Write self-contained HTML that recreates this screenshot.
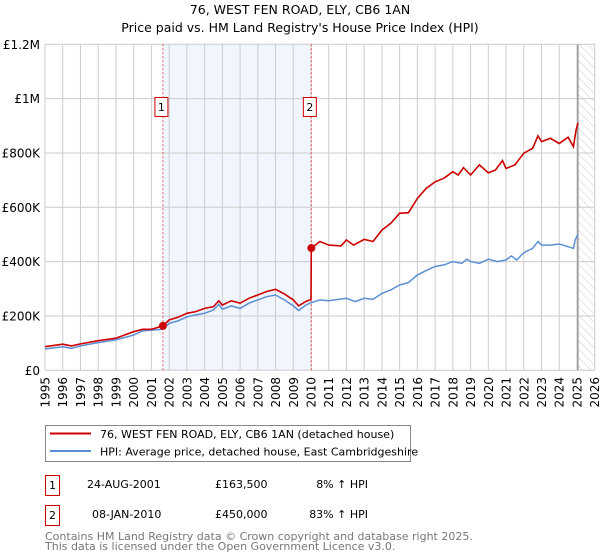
<!DOCTYPE html>
<html><head><meta charset="utf-8"><style>
body{margin:0;background:#fff;}
svg{display:block;font-family:"DejaVu Sans","Liberation Sans",sans-serif;}
</style></head><body>
<svg id="c" width="600" height="560" viewBox="0 0 600 560">
<text x="300" y="14" text-anchor="middle" font-size="12.5" fill="#000">76, WEST FEN ROAD, ELY, CB6 1AN</text>
<text x="300" y="32" text-anchor="middle" font-size="12.5" fill="#000">Price paid vs. HM Land Registry's House Price Index (HPI)</text>
<defs><pattern id="hatch" width="6" height="6" patternUnits="userSpaceOnUse" patternTransform="rotate(-45)"><line x1="0" y1="0" x2="0" y2="6" stroke="#ccc" stroke-width="1"/></pattern></defs>
<g id="plot"></g>
<g>
<rect x="45.5" y="425.5" width="365" height="36" fill="#fff" stroke="#888"/>
<line x1="50" y1="433.5" x2="91" y2="433.5" stroke="#cc0000" stroke-width="2"/>
<text x="100" y="438" font-size="11">76, WEST FEN ROAD, ELY, CB6 1AN (detached house)</text>
<line x1="50" y1="451" x2="91" y2="451" stroke="#5b8fd4" stroke-width="2"/>
<text x="100" y="455.5" font-size="11">HPI: Average price, detached house, East Cambridgeshire</text>
</g>
<g font-size="11">
<rect x="45.5" y="475.5" width="14" height="20" fill="#fff" stroke="#cc0000"/>
<text x="52.5" y="489" text-anchor="middle">1</text>
<text x="87" y="488">24-AUG-2001</text>
<text x="215" y="488">£163,500</text>
<text x="368" y="488" text-anchor="end">8% ↑ HPI</text>
<rect x="45.5" y="505.5" width="14" height="20" fill="#fff" stroke="#cc0000"/>
<text x="52.5" y="519" text-anchor="middle">2</text>
<text x="92" y="518">08-JAN-2010</text>
<text x="215" y="518">£450,000</text>
<text x="368" y="518" text-anchor="end">83% ↑ HPI</text>
</g>
<text x="45" y="540" font-size="11" fill="#777">Contains HM Land Registry data © Crown copyright and database right 2025.</text>
<text x="45" y="550" font-size="11" fill="#777">This data is licensed under the Open Government Licence v3.0.</text>
</svg>
<script>
const yearTicks=[1995,1996,1997,1998,1999,2000,2001,2002,2003,2004,2005,2006,2007,2008,2009,2010,2011,2012,2013,2014,2015,2016,2017,2018,2019,2020,2021,2022,2023,2024,2025,2026];
const valueTicks=[0,200000,400000,600000,800000,1000000,1200000];
const valueTickLabels=["£0","£200K","£400K","£600K","£800K","£1M","£1.2M"];
const hpiYears=[1995,1996,1996.5,1997,1998,1999,2000,2000.5,2001,2001.65,2002,2002.5,2003,2003.5,2004,2004.5,2004.8,2005,2005.5,2006,2006.5,2007,2007.5,2008,2008.5,2009,2009.3,2009.7,2010,2010.5,2011,2012,2012.5,2013,2013.5,2014,2014.5,2015,2015.5,2016,2016.5,2017,2017.5,2018,2018.5,2018.8,2019,2019.5,2020,2020.5,2021,2021.3,2021.6,2022,2022.5,2022.8,2023,2023.5,2024,2024.5,2024.8,2024.9,2025.05];
const hpiValues=[78500,87000,81000,90000,102000,112000,130000,145000,148000,151000,173000,182000,197000,204000,210000,222000,243000,225000,237000,228000,247000,259000,271000,277000,259000,237000,220000,240000,249000,259000,256000,265000,253000,265000,261000,283000,296000,314000,323000,351000,367000,382000,388000,400000,394000,409000,400000,394000,409000,400000,406000,421000,406000,433000,449000,474000,461000,461000,465000,455000,449000,480000,501000];
const priceYears=[1995,1996,1996.5,1997,1998,1999,2000,2000.5,2001,2001.65,2002,2002.5,2003,2003.5,2004,2004.5,2004.8,2005,2005.5,2006,2006.5,2007,2007.5,2008,2008.5,2009,2009.3,2009.7,2010,2010.02,2010.5,2011,2011.7,2012,2012.4,2013,2013.5,2014,2014.5,2015,2015.5,2016,2016.5,2017,2017.5,2018,2018.3,2018.6,2019,2019.5,2020,2020.4,2020.8,2021,2021.5,2022,2022.5,2022.8,2023,2023.5,2024,2024.5,2024.8,2024.95,2025.05];
const priceValues=[87000,96000,90000,97000,109000,118000,142000,151000,151000,163500,185000,195000,210000,216000,228000,234000,256000,240000,256000,247000,265000,277000,290000,298000,281000,259000,237000,253000,261000,450000,474000,461000,458000,480000,461000,482000,474000,516000,541000,578000,580000,633000,670000,694000,707000,731000,719000,746000,719000,756000,727000,737000,772000,743000,756000,799000,817000,863000,842000,854000,835000,858000,823000,885000,911000];
const saleYears=[2001.65,2010.02];
const saleValues=[163500,450000];
const saleLabels=["1","2"];
const dataEndYear=2025.05;

const X0=45,X1=594.7,Y0=370.3,Y1=44.3;
const xs=y=>X0+(y-1995)/(2026-1995)*(X1-X0);
const ys=v=>Y0-v/1200000*(Y0-Y1);
const NS="http://www.w3.org/2000/svg";
const g=document.getElementById('plot');
function mk(t,a,p){const e=document.createElementNS(NS,t);for(const k in a)e.setAttribute(k,a[k]);(p||g).appendChild(e);return e;}

let e=mk('rect',{x:xs(saleYears[0]),y:Y1,width:xs(saleYears[1])-xs(saleYears[0]),height:Y0-Y1,fill:'#eef2fc',opacity:0.8});


e=mk('rect',{x:xs(dataEndYear),y:Y1,width:X1-xs(dataEndYear),height:Y0-Y1,fill:'url(#hatch)'});


yearTicks.forEach(yr=>{
 const l=mk('line',{x1:xs(yr),x2:xs(yr),y1:Y1,y2:Y0,stroke:'#ccc','stroke-width':1});
 
 
 const t=mk('text',{transform:`translate(${xs(yr)+4.5},377) rotate(-90)`,'text-anchor':'end','font-size':12,fill:'#000'});
 t.textContent=yr;
 
 
});
valueTicks.forEach((v,i)=>{
 const l=mk('line',{x1:X0,x2:X1,y1:ys(v),y2:ys(v),stroke:'#ccc','stroke-width':1});
 
 
 const t=mk('text',{x:40,y:ys(v)+4.5,'text-anchor':'end','font-size':12,fill:'#000'});
 t.textContent=valueTickLabels[i];
 
 
});
e=mk('line',{x1:xs(dataEndYear),x2:xs(dataEndYear),y1:Y1,y2:Y0,stroke:'#999','stroke-width':1.5});


saleYears.forEach((yr,i)=>{
 const l=mk('line',{x1:xs(yr),x2:xs(yr),y1:Y1,y2:Y0,stroke:'#e05050','stroke-width':1,'stroke-dasharray':'2,2'});
 
 
});
const path=(xa,va)=>xa.map((yr,i)=>(i?'L':'M')+xs(yr).toFixed(1)+','+ys(va[i]).toFixed(1)).join('');
e=mk('path',{d:path(hpiYears,hpiValues),fill:'none',stroke:'#5b8fd4','stroke-width':1.5});


e=mk('path',{d:path(priceYears,priceValues),fill:'none',stroke:'#cc0000','stroke-width':1.6});


saleYears.forEach((yr,i)=>{
 const c=mk('circle',{cx:xs(yr),cy:ys(saleValues[i]),r:4,fill:'#cc0000'});
 
 
 const bx=xs(yr)-8.5;
 const r=mk('rect',{x:bx+0.5,y:97.5,width:13,height:19,fill:'#fff',stroke:'#cc0000'});
 
 
 const t=mk('text',{x:bx+7,y:111,'text-anchor':'middle','font-size':11});
 t.textContent=saleLabels[i];
 
 
});
</script>
</body></html>
